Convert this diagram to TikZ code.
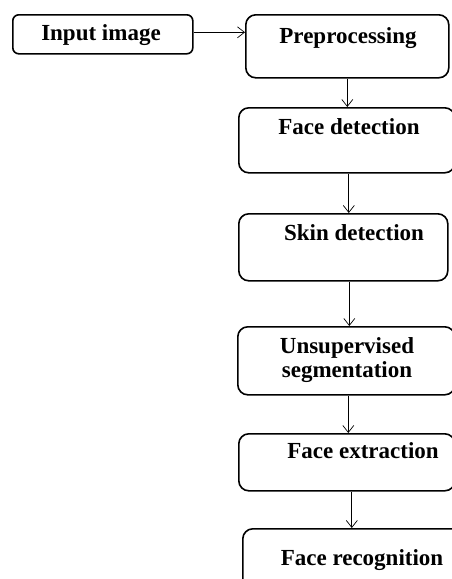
\documentclass[tikz,border=0pt]{standalone}
\usepackage{fontspec}
\setmainfont{Liberation Serif}
\usetikzlibrary{positioning, arrows.meta}

\begin{document}
\begin{tikzpicture}[x=1pt, y=-1pt, font=\fontsize{23}{24}\selectfont\bfseries]
\tikzstyle{stepbox}=[draw, line width=1.6pt, rounded corners=10pt, anchor=north west, inner sep=0pt]
\tikzstyle{steptext}=[anchor=base, inner sep=0pt, align=center]
\tikzstyle{flow}=[line width=0.7pt, -{Straight Barb[length=7pt, width=11pt]}]
\useasboundingbox (0,0) rectangle (452,579);
\clip (0,0) rectangle (452,579);
% boxes
\node[stepbox, rounded corners=6pt, minimum width=180pt, minimum height=39pt] (inp) at (12,14) {};
\node[stepbox, minimum width=203pt, minimum height=63pt] (pre) at (245,14) {};
\node[stepbox, minimum width=216pt, minimum height=65pt] (fdet) at (238,107) {};
\node[stepbox, minimum width=209pt, minimum height=67pt] (skin) at (238,213) {};
\node[stepbox, minimum width=217pt, minimum height=68pt] (unsup) at (237,326) {};
\node[stepbox, minimum width=216pt, minimum height=57pt] (extr) at (238,433) {};
\node[stepbox, minimum width=230pt, minimum height=80pt] (recog) at (242,528) {};
% texts
\node[steptext] (inpT) at (101,40) {Input image};
\node[steptext] (preT) at (348,43) {Preprocessing};
\node[steptext] (fdetT) at (349,134) {Face detection};
\node[steptext] (skinT) at (354,240) {Skin detection};
\node[steptext] (unsupT) at (347,377) {Unsupervised\\segmentation};
\node[steptext] (extrT) at (363,458) {Face extraction};
\node[steptext] (recogT) at (362,565) {Face recognition};
% arrows
\draw[flow] ([yshift=2]inp.east) -- ([yshift=2]inp.east -| pre.west);
\draw[flow] (pre.south) -- (pre.south |- fdet.north);
\draw[flow] ([xshift=2]fdet.south) -- ([xshift=2]fdet.south |- skin.north);
\draw[flow] ([xshift=6]skin.south) -- ([xshift=6]skin.south |- unsup.north);
\draw[flow] ([xshift=2]unsup.south) -- ([xshift=2]unsup.south |- extr.north);
\draw[flow] ([xshift=5]extr.south) -- ([xshift=5]extr.south |- recog.north);
\end{tikzpicture}
\end{document}
